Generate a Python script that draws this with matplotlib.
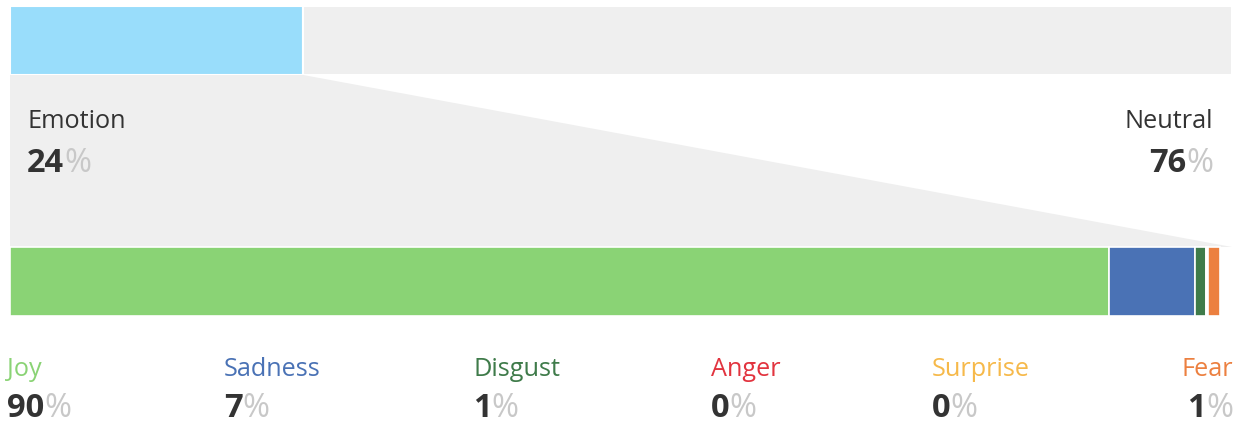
import matplotlib.pyplot as plt
from matplotlib.patches import Polygon

# top split
top_labels = ['Emotion', 'Neutral']
top_values = [24, 76]

# emotions breakdown (bar widths, shown values are rounded)
emotions = ['Joy', 'Sadness', 'Disgust', 'Anger', 'Surprise', 'Fear']
emo_values = [89.9, 7.1, 0.9, 0.05, 0.05, 1.0]
emo_shown = [90, 7, 1, 0, 0, 1]
emo_colors = ['#8AD375', '#4A72B5', '#3F7B4A', '#E2343F', '#F6B94A', '#EC8040']

W, H = 1243, 424
plt.rcParams['font.family'] = ['Open Sans', 'DejaVu Sans']
fig = plt.figure(figsize=(W / 100, H / 100), dpi=100)
ax = fig.add_axes([10 / W, 0, 1222 / W, 1])
ax.set_xlim(0, 100)
ax.set_ylim(H, 0)
ax.axis('off')

grey = '#EFEFEF'
dark = '#333333'
pct_col = '#C8C8C8'

# top bar
ax.barh(40.5, top_values[0], height=69, left=0, color='#99DDFB', edgecolor='white', linewidth=1.5)
ax.barh(40.5, top_values[1], height=69, left=top_values[0], color=grey, edgecolor='white', linewidth=1.5)

# funnel
poly = Polygon([(0, 75), (top_values[0], 75), (100, 247), (0, 247)], closed=True,
               facecolor=grey, edgecolor='none')
ax.add_patch(poly)

# bottom stacked bar
left = 0
for v, c in zip(emo_values, emo_colors):
    ax.barh(281.5, v, height=69, left=left, color=c, edgecolor='white', linewidth=1.2)
    left += v


def px(x):
    return (x - 10) / 1222 * 100


def stat(x, y_lab, y_num, label, num, lab_col, right=False):
    ha = 'right' if right else 'left'
    ax.text(px(x), y_lab, label, color=lab_col, fontsize=18.2, ha=ha, va='baseline', clip_on=False)
    if not right:
        t = ax.text(px(x), y_num, str(num), color=dark, fontsize=23.5, fontweight='bold',
                    ha='left', va='baseline', clip_on=False)
        ax.annotate('%', xy=(1, 0), xycoords=t, color=pct_col, fontsize=23.5,
                    ha='left', va='bottom', annotation_clip=False)
    else:
        p = ax.text(px(x), y_num, '%', color=pct_col, fontsize=23.5,
                    ha='right', va='baseline', clip_on=False)
        ax.annotate(str(num), xy=(0, 0), xycoords=p, color=dark, fontsize=23.5, fontweight='bold',
                    ha='right', va='bottom', annotation_clip=False)


stat(27, 128, 172, top_labels[0], top_values[0], dark)
stat(1213, 128, 172, top_labels[1], top_values[1], dark, right=True)

xs = [7, 224, 473, 711, 932, 1233]
for i, name in enumerate(emotions):
    stat(xs[i], 376, 417, name, emo_shown[i], emo_colors[i], right=(i == len(emotions) - 1))

fig.savefig('out.png', dpi=100)
